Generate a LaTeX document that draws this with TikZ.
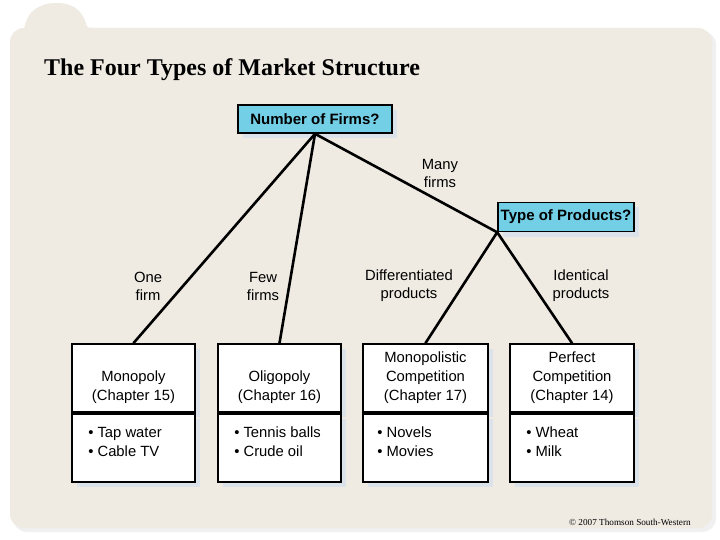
\documentclass[tikz,border=0pt]{standalone}
\usepackage{fontspec}
\setmainfont{Liberation Sans}
\newfontfamily\titlefont{Liberation Serif}
\usetikzlibrary{shadows,calc}
\definecolor{panel}{HTML}{EFEBE3}
\definecolor{qblue}{HTML}{72CFE6}
\definecolor{shad}{HTML}{DCE2EA}
\tikzset{
  qbox/.style={draw=black, line width=1.6pt, fill=qblue, inner sep=0pt,
    font=\fontsize{15}{17}\selectfont\bfseries,
    general shadow={fill=shad, shadow xshift=5pt, shadow yshift=-5pt}},
  mbox/.style={draw=black, line width=1.8pt, fill=white, inner sep=0pt,
    minimum height=68pt, align=center, font=\fontsize{14.8}{19}\selectfont,
    general shadow={fill=shad, shadow xshift=5pt, shadow yshift=-5pt}},
  exbox/.style={draw=black, line width=1.8pt, fill=white, inner sep=0pt,
    minimum height=68pt,
    general shadow={fill=shad, shadow xshift=5pt, shadow yshift=-5pt}},
  extext/.style={inner sep=0pt, align=left, anchor=north west, font=\fontsize{14.8}{19}\selectfont},
  lbl/.style={inner sep=0pt, align=center, font=\fontsize{14.8}{18}\selectfont},
  conn/.style={line width=2.6pt, black, line cap=round}
}
\begin{document}
\begin{tikzpicture}[x=1pt,y=-1pt]
\useasboundingbox (0,0) rectangle (720,540);
\fill[white] (0,0) rectangle (720,540);
% panel shadow
\fill[black!6, rounded corners=14pt] (13,31) rectangle (716,532);
% panel
\fill[panel, rounded corners=14pt] (10,28) rectangle (712,528);
\fill[panel] (24,30) .. controls (27,10) and (40,3) .. (57,3) .. controls (74,3) and (83,12) .. (86,24) .. controls (87,28) and (89,28) .. (94,28) -- (24,28) -- cycle;
% title
\node[anchor=base west, inner sep=0pt, font=\titlefont\bfseries\fontsize{24}{28}\selectfont] (title) at (44,76) {The Four Types of Market Structure};
% question boxes
\node[qbox, minimum width=154pt, minimum height=28pt] (nf) at (315,119) {Number of Firms?};
\node[qbox, minimum width=136pt, minimum height=29pt] (tp) at (566,217) {Type of Products?};
% market boxes (top parts)
\node[mbox, minimum width=123pt] (mono) at (133.5,378) {\phantom{M}\\Monopoly\\(Chapter 15)};
\node[mbox, minimum width=123pt] (oli) at (279.5,378) {\phantom{M}\\Oligopoly\\(Chapter 16)};
\node[mbox, minimum width=125pt] (mc) at (425.5,378) {Monopolistic\\Competition\\(Chapter 17)};
\node[mbox, minimum width=124pt] (pc) at (572,378) {Perfect\\Competition\\(Chapter 14)};
% example boxes
\node[exbox, minimum width=123pt, anchor=north] (monoex) at (mono.south) {};
\node[exbox, minimum width=123pt, anchor=north] (oliex) at (oli.south) {};
\node[exbox, minimum width=125pt, anchor=north] (mcex) at (mc.south) {};
\node[exbox, minimum width=124pt, anchor=north] (pcex) at (pc.south) {};
\node[extext] (monot) at ($(monoex.north west)+(17,14)$) {• Tap water\\• Cable TV};
\node[extext] (olit) at ($(oliex.north west)+(17,14)$) {• Tennis balls\\• Crude oil};
\node[extext] (mct) at ($(mcex.north west)+(15,14)$) {• Novels\\• Movies};
\node[extext] (pct) at ($(pcex.north west)+(17,14)$) {• Wheat\\• Milk};
% labels
\node[lbl] (l1) at (148,286) {One\\firm};
\node[lbl] (l2) at (263,286) {Few\\firms};
\node[lbl] (l3) at (440,173) {Many\\firms};
\node[lbl] (l4) at (409,286) {Differentiated\\products};
\node[lbl] (l5) at (581,286) {Identical\\products};
% connectors
\draw[conn] (nf.south) -- (mono.north);
\draw[conn] (nf.south) -- (oli.north);
\draw[conn] (nf.south) -- (tp.south west);
\draw[conn] (tp.south west) -- (mc.north);
\draw[conn] (tp.south west) -- (pc.north);
% copyright
\node[anchor=base west, inner sep=0pt, font=\titlefont\fontsize{9.2}{11}\selectfont] (copy) at (569,525) {© 2007 Thomson South-Western};
\end{tikzpicture}
\end{document}
